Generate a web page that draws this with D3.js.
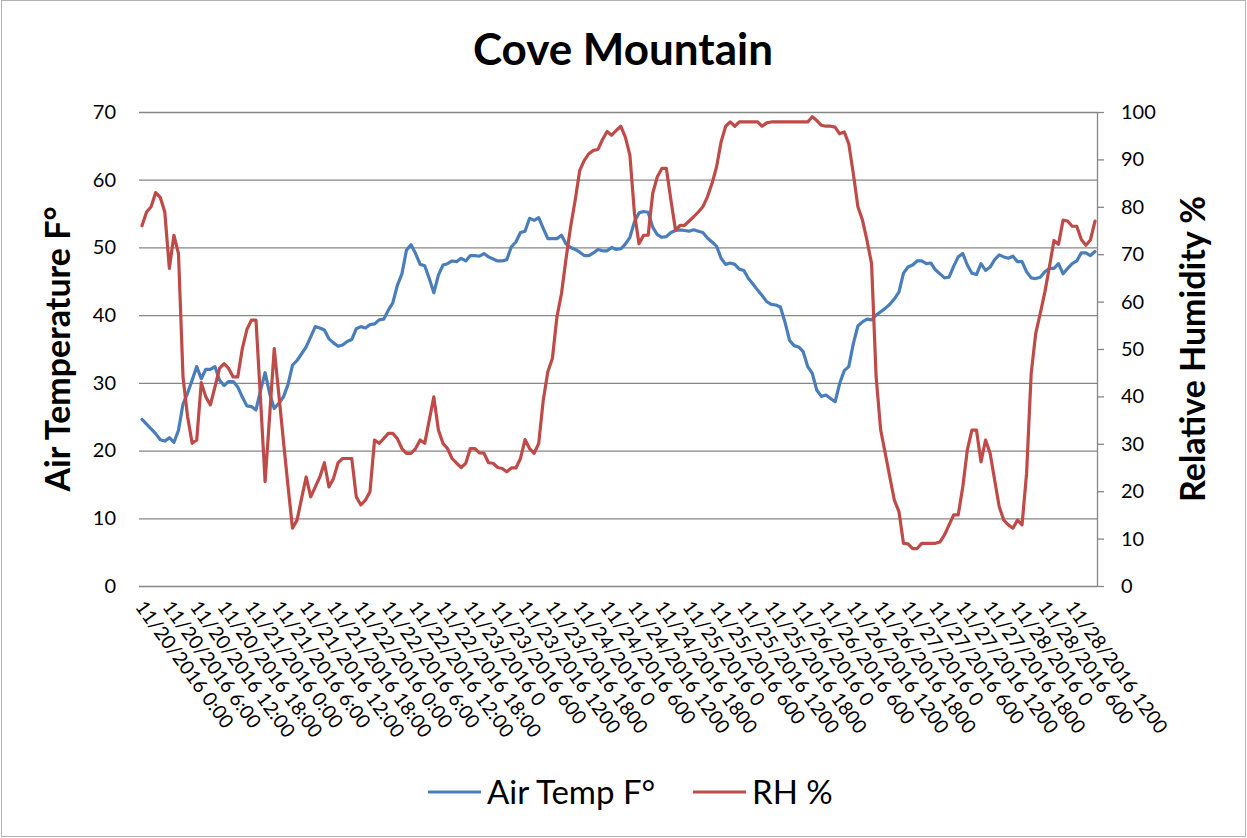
<!DOCTYPE html>
<meta charset="utf-8">
<body style="margin:0;background:#fff">
<script src="https://d3js.org/d3.v7.min.js"></script>
<script>

  // hourly readings, 11/20/2016 0:00 .. 11/28/2016 17:00
  let airTemp = [24.6, 23.9, 23.2, 22.5, 21.6, 21.4, 21.9, 21.2, 23.0, 26.9, 28.5, 30.4, 32.4, 30.6, 32.0, 32.0, 32.4, 30.4, 29.6, 30.2,
    30.2, 29.4, 27.9, 26.6, 26.5, 26.0, 28.9, 31.5, 28.4, 26.2, 27.0, 27.9, 29.7, 32.6, 33.3, 34.3, 35.3, 36.8, 38.3, 38.1,
    37.8, 36.5, 35.9, 35.4, 35.6, 36.1, 36.4, 38.0, 38.3, 38.1, 38.6, 38.7, 39.3, 39.4, 40.7, 41.8, 44.4, 46.1, 49.6, 50.4,
    49.1, 47.5, 47.3, 45.4, 43.3, 45.9, 47.4, 47.6, 48.0, 47.9, 48.4, 48.0, 48.8, 48.8, 48.7, 49.1, 48.6, 48.3, 48.0, 48.0,
    48.2, 50.1, 50.8, 52.2, 52.4, 54.3, 54.0, 54.4, 52.8, 51.3, 51.3, 51.3, 51.8, 50.5, 50.0, 49.7, 49.3, 48.8, 48.8, 49.2,
    49.7, 49.5, 49.5, 50.0, 49.7, 49.8, 50.5, 51.5, 53.8, 55.1, 55.3, 55.2, 53.0, 51.9, 51.5, 51.6, 52.2, 52.5, 52.6, 52.5,
    52.4, 52.6, 52.4, 52.2, 51.4, 50.8, 50.2, 48.4, 47.5, 47.7, 47.5, 46.8, 46.6, 45.4, 44.6, 43.7, 42.9, 42.0, 41.6, 41.5,
    41.2, 39.0, 36.3, 35.5, 35.3, 34.6, 32.4, 31.4, 28.9, 28.0, 28.2, 27.7, 27.2, 29.9, 31.8, 32.4, 35.8, 38.4, 39.0, 39.4,
    39.3, 40.0, 40.5, 41.0, 41.6, 42.4, 43.4, 46.2, 47.1, 47.4, 48.0, 48.0, 47.6, 47.7, 46.7, 46.1, 45.5, 45.6, 47.2, 48.6,
    49.1, 47.4, 46.2, 46.0, 47.6, 46.6, 47.1, 48.2, 48.9, 48.6, 48.4, 48.7, 47.9, 47.9, 46.4, 45.5, 45.4, 45.6, 46.4, 46.9,
    46.9, 47.6, 46.1, 46.9, 47.6, 48.0, 49.2, 49.2, 48.8, 49.4];

  let rh = [76, 78.9, 80, 83, 82, 78.9, 67, 74, 70.1, 44, 35.7, 30.1, 30.8, 42.9, 39.9, 38.2, 42, 45.9, 46.9, 45.9,
    44.1, 44.1, 50.1, 54.1, 56.1, 56.1, 39.3, 22, 36, 50.1, 40.5, 30.8, 21.3, 12.2, 13.9, 18.5, 23, 18.8, 20.9, 23,
    26, 20.9, 22.7, 26, 26.9, 26.9, 26.9, 18.8, 17.1, 18.1, 19.9, 30.8, 30.1, 31.1, 32.2, 32.2, 31.1, 29, 28, 28,
    29, 30.8, 30.1, 35, 39.9, 32.9, 30.1, 29, 26.9, 25.9, 25, 25.9, 29, 29, 28.1, 28, 26, 25.9, 25, 24.8,
    24.1, 24.9, 24.9, 26.9, 30.9, 29, 28, 30.1, 39.2, 45.2, 48, 56.8, 61.7, 69.1, 75.8, 81.4, 87.7, 89.8, 91.2, 91.9,
    92.1, 94.2, 95.9, 95.1, 96.1, 97, 94.7, 90.9, 78.6, 72.2, 74, 74, 82.8, 86.3, 88.1, 88.1, 81.4, 75.1, 76.1, 76.1,
    77, 77.9, 78.9, 80, 82.1, 84.9, 88.4, 93.7, 97, 97.9, 97, 97.9, 97.9, 97.9, 97.9, 97.9, 97, 97.7, 97.9, 97.9,
    97.9, 97.9, 97.9, 97.9, 97.9, 97.9, 97.9, 99, 98.2, 97.2, 97, 97, 96.8, 95.4, 95.8, 93.3, 87, 80, 77.2, 72.9,
    68, 44.1, 32.9, 28, 23, 18.1, 15.7, 9, 8.9, 7.9, 7.9, 9, 9, 9, 9, 9.3, 10.8, 12.9, 15, 15,
    20.9, 28.7, 32.9, 32.9, 26.2, 30.8, 28, 22.3, 16.7, 13.9, 12.9, 12.2, 13.9, 12.9, 23.8, 44.8, 53.3, 57.5, 62, 67.3,
    72.9, 72.1, 77.2, 77, 75.9, 75.9, 73.1, 71.9, 73, 77];

  // one label every 6 readings
  let tickLabels = [
    "11/20/2016 0:00", "11/20/2016 6:00", "11/20/2016 12:00", "11/20/2016 18:00",
    "11/21/2016 0:00", "11/21/2016 6:00", "11/21/2016 12:00", "11/21/2016 18:00",
    "11/22/2016 0:00", "11/22/2016 6:00", "11/22/2016 12:00", "11/22/2016 18:00",
    "11/23/2016 0", "11/23/2016 600", "11/23/2016 1200", "11/23/2016 1800",
    "11/24/2016 0", "11/24/2016 600", "11/24/2016 1200", "11/24/2016 1800",
    "11/25/2016 0", "11/25/2016 600", "11/25/2016 1200", "11/25/2016 1800",
    "11/26/2016 0", "11/26/2016 600", "11/26/2016 1200", "11/26/2016 1800",
    "11/27/2016 0", "11/27/2016 600", "11/27/2016 1200", "11/27/2016 1800",
    "11/28/2016 0", "11/28/2016 600", "11/28/2016 1200"];
  let labelStep = 6;

  let tempTicks = [0, 10, 20, 30, 40, 50, 60, 70];
  let rhTicks = [0, 10, 20, 30, 40, 50, 60, 70, 80, 90, 100];

  let width = 1247,
    height = 838,
    plotLeft = 142,
    plotRight = 1095,
    plotTop = 112,
    plotBottom = 586;

  let blue = "#4a7ebb",
    red = "#be4b48",
    grid = "#868686",
    font = "Lato, 'Open Sans', sans-serif";

  let svg = d3.select("body").append("svg")
    .attr("width", width)
    .attr("height", height)
    .style("font-family", font);

  svg.append("rect")
    .attr("x", 1.5).attr("y", 0.5)
    .attr("width", width - 3).attr("height", height - 2)
    .attr("fill", "#fff")
    .attr("stroke", "#b3b3b3");

  let x = d3.scalePoint()
    .domain(d3.range(airTemp.length))
    .range([plotLeft, plotRight]);

  let yT = d3.scaleLinear().domain([0, 70]).range([plotBottom, plotTop]);
  let yR = d3.scaleLinear().domain([0, 100]).range([plotBottom, plotTop]);

  let axisX = 1097;

  // gridlines
  svg.append("g")
    .attr("transform", "translate(" + plotLeft + ",0)")
    .call(d3.axisLeft(yT).tickValues(tempTicks).tickSize(-(axisX - plotLeft)).tickSizeOuter(0).tickPadding(26))
    .call(g => g.select(".domain").remove())
    .call(g => g.selectAll(".tick line").attr("stroke", grid).attr("stroke-width", 1.3).attr("x1", -3))
    .call(g => g.selectAll(".tick text").attr("fill", "#000").style("font-size", "20px").style("font-family", font));

  // right axis
  svg.append("g")
    .attr("transform", "translate(" + axisX + ",0)")
    .call(d3.axisRight(yR).tickValues(rhTicks).tickSize(7).tickSizeOuter(0).tickPadding(17))
    .call(g => g.select(".domain").attr("stroke", grid).attr("stroke-width", 1.3))
    .call(g => g.selectAll(".tick line").attr("stroke", grid).attr("stroke-width", 1.3))
    .call(g => g.selectAll(".tick text").attr("fill", "#000").style("font-size", "20px").style("font-family", font));

  // category labels
  let xLabels = svg.append("g");
  xLabels.selectAll("text")
    .data(tickLabels)
    .enter().append("text")
    .attr("transform", (d, i) => "translate(" + (x(i * labelStep) - 2) + ",603) rotate(54)")
    .attr("text-anchor", "start")
    .attr("dy", "0.35em")
    .style("font-size", "19.5px")
    .text(d => d);

  let tempLine = d3.line()
    .x((d, i) => x(i))
    .y(d => yT(d));

  let rhLine = d3.line()
    .x((d, i) => x(i))
    .y(d => yR(d));

  svg.append("path")
    .datum(airTemp)
    .attr("d", tempLine)
    .attr("fill", "none")
    .attr("stroke", blue)
    .attr("stroke-width", 3.2)
    .attr("stroke-linejoin", "round")
    .attr("stroke-linecap", "round");

  svg.append("path")
    .datum(rh)
    .attr("d", rhLine)
    .attr("fill", "none")
    .attr("stroke", red)
    .attr("stroke-width", 3.2)
    .attr("stroke-linejoin", "round")
    .attr("stroke-linecap", "round");

  svg.append("text")
    .attr("x", 623).attr("y", 65)
    .attr("text-anchor", "middle")
    .style("font-size", "44px")
    .style("font-weight", "bold")
    .text("Cove Mountain");

  svg.append("text")
    .attr("transform", "translate(70,349) rotate(-90)")
    .attr("text-anchor", "middle")
    .style("font-size", "34px")
    .style("font-weight", "bold")
    .text("Air Temperature F°");

  svg.append("text")
    .attr("transform", "translate(1205,349) rotate(-90)")
    .attr("text-anchor", "middle")
    .style("font-size", "34px")
    .style("font-weight", "bold")
    .text("Relative Humidity %");

  // legend
  let legend = [{name: "Air Temp F°", color: blue, x: 428}, {name: "RH %", color: red, x: 693}];
  let lg = svg.append("g").selectAll("g")
    .data(legend)
    .enter().append("g")
    .attr("transform", d => "translate(" + d.x + ",792)");
  lg.append("line")
    .attr("x1", 0).attr("x2", 53)
    .attr("stroke", d => d.color)
    .attr("stroke-width", 3.2);
  lg.append("text")
    .attr("x", 59).attr("dy", "0.35em")
    .style("font-size", "33px")
    .text(d => d.name);

</script>
